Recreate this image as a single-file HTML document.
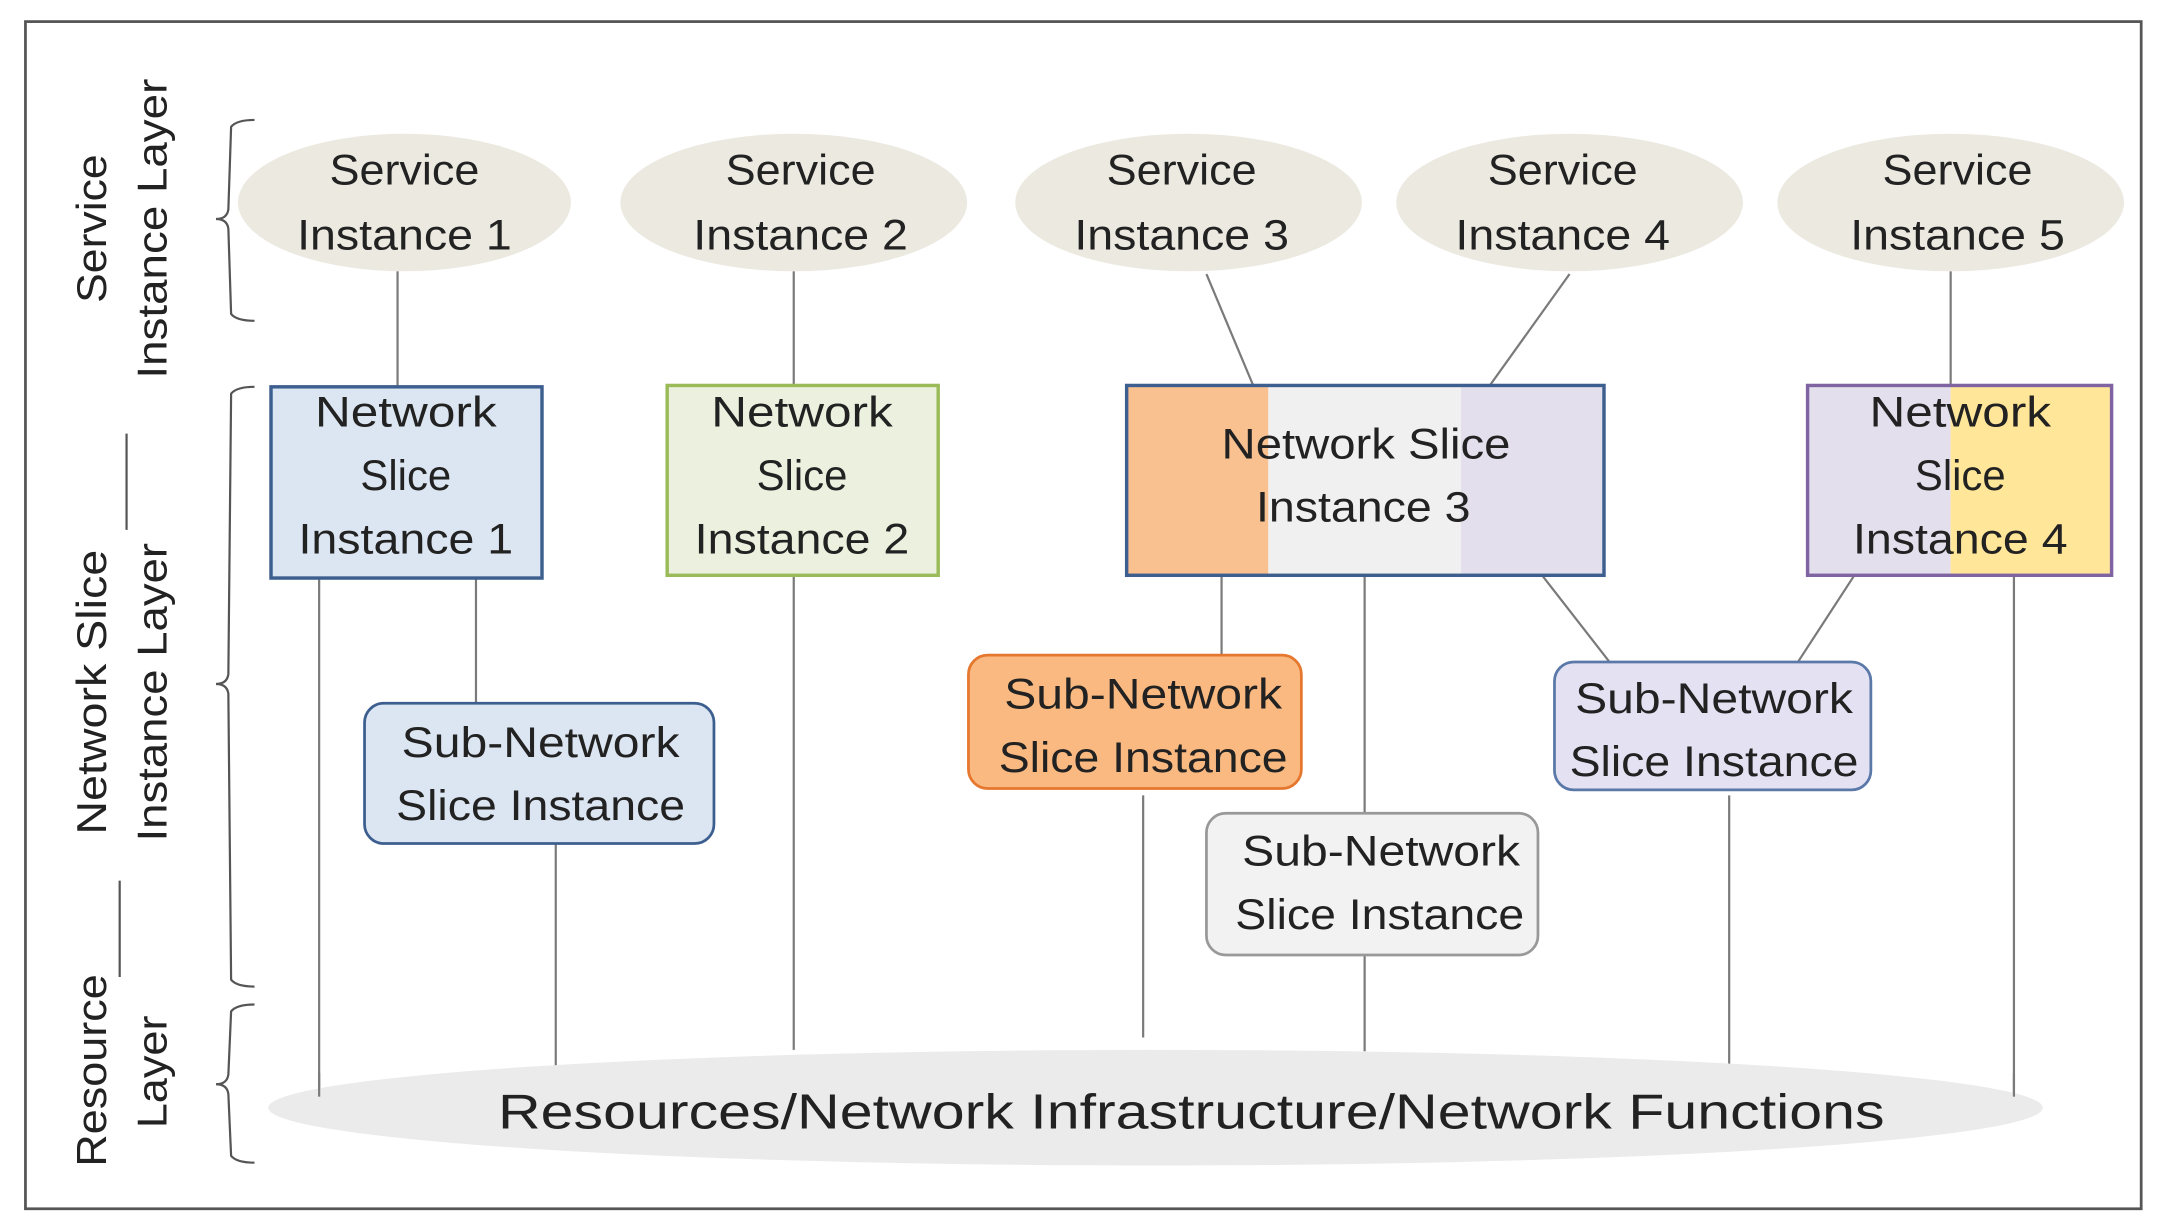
<!DOCTYPE html>
<html><head><meta charset="utf-8"><style>html,body{margin:0;padding:0;background:#fff}svg{display:block}</style></head>
<body>
<svg width="2157" height="1229" viewBox="0 0 1568 893" xmlns="http://www.w3.org/2000/svg" font-family="Liberation Sans, sans-serif">
<rect x="0" y="0" width="1568" height="893" fill="#fff"/>
<rect x="18.5" y="15.5" width="1538" height="863" fill="#fff" stroke="#555" stroke-width="2"/>
<g stroke="#7a7a7a" stroke-width="1.6" fill="none">
<line x1="289" y1="197" x2="289" y2="281"/>
<line x1="577" y1="197" x2="577" y2="280"/>
<line x1="877" y1="199" x2="911" y2="280"/>
<line x1="1141" y1="199" x2="1083" y2="280"/>
<line x1="1418" y1="197" x2="1418" y2="280"/>
<line x1="232" y1="420" x2="232" y2="797"/>
<line x1="346" y1="420" x2="346" y2="511"/>
<line x1="404" y1="613" x2="404" y2="775"/>
<line x1="577" y1="418" x2="577" y2="763"/>
<line x1="888" y1="418" x2="888" y2="476"/>
<line x1="831" y1="578" x2="831" y2="754"/>
<line x1="992" y1="418" x2="992" y2="591"/>
<line x1="992" y1="694" x2="992" y2="764"/>
<line x1="1121" y1="418" x2="1170" y2="481"/>
<line x1="1348" y1="418" x2="1307" y2="481"/>
<line x1="1257" y1="578" x2="1257" y2="775"/>
<line x1="1464" y1="418" x2="1464" y2="797"/>
</g>
<!-- resource ellipse -->
<ellipse cx="840" cy="805" rx="645" ry="42" fill="#ebebeb"/>
<g stroke="#7a7a7a" stroke-width="1.6"><line x1="232" y1="780" x2="232" y2="797"/><line x1="1464" y1="780" x2="1464" y2="797"/></g>
<text x="866" y="820" font-size="36" text-anchor="middle" textLength="1008" lengthAdjust="spacingAndGlyphs" fill="#222">Resources/Network Infrastructure/Network Functions</text>
<!-- service ellipses -->
<g fill="#ebe9e0">
<ellipse cx="294" cy="147" rx="121" ry="50"/>
<ellipse cx="577" cy="147" rx="126" ry="50"/>
<ellipse cx="864" cy="147" rx="126" ry="50"/>
<ellipse cx="1141" cy="147" rx="126" ry="50"/>
<ellipse cx="1418" cy="147" rx="126" ry="50"/>
</g>
<g font-size="31" fill="#222" text-anchor="middle">
<text x="294" y="134" textLength="109" lengthAdjust="spacingAndGlyphs">Service</text>
<text x="294" y="181" textLength="156" lengthAdjust="spacingAndGlyphs">Instance 1</text>
<text x="582" y="134" textLength="109" lengthAdjust="spacingAndGlyphs">Service</text>
<text x="582" y="181" textLength="156" lengthAdjust="spacingAndGlyphs">Instance 2</text>
<text x="859" y="134" textLength="109" lengthAdjust="spacingAndGlyphs">Service</text>
<text x="859" y="181" textLength="156" lengthAdjust="spacingAndGlyphs">Instance 3</text>
<text x="1136" y="134" textLength="109" lengthAdjust="spacingAndGlyphs">Service</text>
<text x="1136" y="181" textLength="156" lengthAdjust="spacingAndGlyphs">Instance 4</text>
<text x="1423" y="134" textLength="109" lengthAdjust="spacingAndGlyphs">Service</text>
<text x="1423" y="181" textLength="156" lengthAdjust="spacingAndGlyphs">Instance 5</text>
</g>
<!-- NSI boxes -->
<rect x="197" y="281" width="197" height="139" fill="#dce6f2" stroke="#3d5f8f" stroke-width="2.5"/>
<rect x="485" y="280" width="197" height="138" fill="#ebf1de" stroke="#9bbb59" stroke-width="2.5"/>
<rect x="819" y="280" width="103" height="138" fill="#f9c090"/>
<rect x="922" y="280" width="140" height="138" fill="#f0f0f0"/>
<rect x="1062" y="280" width="104" height="138" fill="#e4dfec"/>
<rect x="819" y="280" width="347" height="138" fill="none" stroke="#3d5f8f" stroke-width="2.5"/>
<rect x="1314" y="280" width="104" height="138" fill="#e4dfec"/>
<rect x="1418" y="280" width="117" height="138" fill="#ffe699"/>
<rect x="1314" y="280" width="221" height="138" fill="none" stroke="#8064a2" stroke-width="2.5"/>
<g font-size="31" fill="#222" text-anchor="middle">
<text x="295" y="310" textLength="132" lengthAdjust="spacingAndGlyphs">Network</text>
<text x="295" y="356" textLength="66" lengthAdjust="spacingAndGlyphs">Slice</text>
<text x="295" y="402" textLength="156" lengthAdjust="spacingAndGlyphs">Instance 1</text>
<text x="583" y="310" textLength="132" lengthAdjust="spacingAndGlyphs">Network</text>
<text x="583" y="356" textLength="66" lengthAdjust="spacingAndGlyphs">Slice</text>
<text x="583" y="402" textLength="156" lengthAdjust="spacingAndGlyphs">Instance 2</text>
<text x="993" y="333" textLength="210" lengthAdjust="spacingAndGlyphs">Network Slice</text>
<text x="991" y="379" textLength="156" lengthAdjust="spacingAndGlyphs">Instance 3</text>
<text x="1425" y="310" textLength="132" lengthAdjust="spacingAndGlyphs">Network</text>
<text x="1425" y="356" textLength="66" lengthAdjust="spacingAndGlyphs">Slice</text>
<text x="1425" y="402" textLength="156" lengthAdjust="spacingAndGlyphs">Instance 4</text>
</g>
<!-- sub-network boxes -->
<rect x="265" y="511" width="254" height="102" rx="14" fill="#dce6f2" stroke="#3d5f8f" stroke-width="2"/>
<rect x="704" y="476" width="242" height="97" rx="14" fill="#f9b981" stroke="#e6772e" stroke-width="2"/>
<rect x="877" y="591" width="241" height="103" rx="14" fill="#f2f2f2" stroke="#999" stroke-width="2"/>
<rect x="1130" y="481" width="230" height="93" rx="14" fill="#e4e2f2" stroke="#5a78a8" stroke-width="2"/>
<g font-size="31" fill="#222" text-anchor="middle">
<text x="393" y="550" textLength="202" lengthAdjust="spacingAndGlyphs">Sub-Network</text>
<text x="393" y="596" textLength="210" lengthAdjust="spacingAndGlyphs">Slice Instance</text>
<text x="831" y="515" textLength="202" lengthAdjust="spacingAndGlyphs">Sub-Network</text>
<text x="831" y="561" textLength="210" lengthAdjust="spacingAndGlyphs">Slice Instance</text>
<text x="1004" y="629" textLength="202" lengthAdjust="spacingAndGlyphs">Sub-Network</text>
<text x="1003" y="675" textLength="210" lengthAdjust="spacingAndGlyphs">Slice Instance</text>
<text x="1246" y="518" textLength="202" lengthAdjust="spacingAndGlyphs">Sub-Network</text>
<text x="1246" y="564" textLength="210" lengthAdjust="spacingAndGlyphs">Slice Instance</text>
</g>
<!-- braces -->
<g stroke="#555" stroke-width="1.6" fill="none">
<path d="M185 87 Q172 87 168 92 L166 152 Q165 159 157 159 Q165 159 166 166 L168 228 Q172 233 185 233"/>
<path d="M185 281 Q172 281 168 286 L166 490 Q165 497 157 497 Q165 497 166 504 L168 712 Q172 717 185 717"/>
<path d="M185 730 Q172 730 168 735 L166 781 Q165 788 157 788 Q165 788 166 795 L168 840 Q172 845 185 845"/>
<line x1="92" y1="315" x2="92" y2="385"/>
<line x1="87" y1="640" x2="87" y2="710"/>
</g>
<g font-size="30" fill="#222" text-anchor="middle">
<text transform="translate(77,166) rotate(-90)" textLength="108" lengthAdjust="spacingAndGlyphs">Service</text>
<text transform="translate(121,166) rotate(-90)" textLength="218" lengthAdjust="spacingAndGlyphs">Instance Layer</text>
<text transform="translate(77,503) rotate(-90)" textLength="207" lengthAdjust="spacingAndGlyphs">Network Slice</text>
<text transform="translate(121,503) rotate(-90)" textLength="217" lengthAdjust="spacingAndGlyphs">Instance Layer</text>
<text transform="translate(77,778) rotate(-90)" textLength="140" lengthAdjust="spacingAndGlyphs">Resource</text>
<text transform="translate(121,779) rotate(-90)" textLength="82" lengthAdjust="spacingAndGlyphs">Layer</text>
</g>
</svg>
</body></html>
